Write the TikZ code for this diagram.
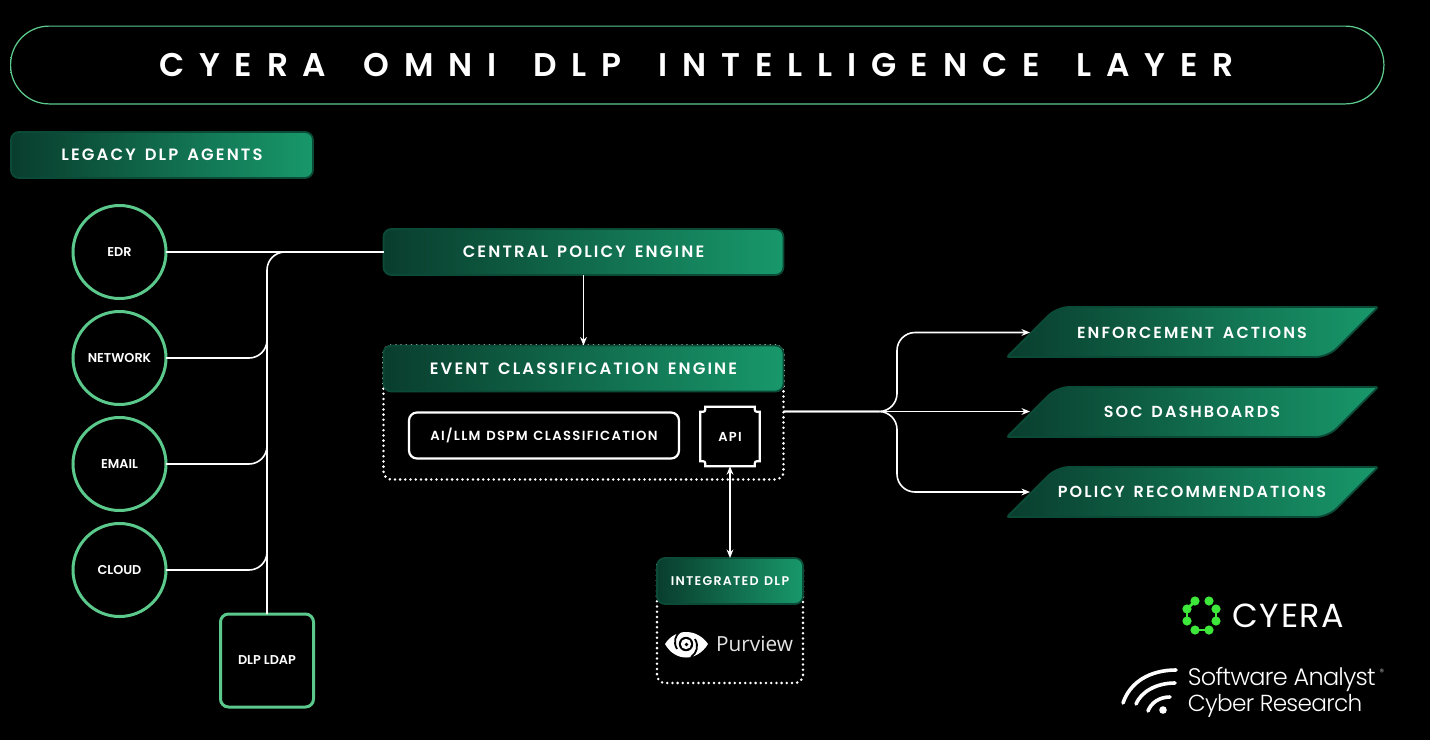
\documentclass[tikz,border=0pt]{standalone}
\usepackage{fontspec}
\usepackage{xcolor}
\usetikzlibrary{calc,arrows.meta}
\setmainfont{Poppins}[BoldFont={Poppins SemiBold}]
\newfontfamily\titlefont{Poppins}[LetterSpace=45,WordSpace=1.65,BoldFont={Poppins SemiBold}]
\newfontfamily\headfont{Poppins}[LetterSpace=13,WordSpace=1.5,BoldFont={Poppins SemiBold}]
\newfontfamily\smallfont{Poppins}[LetterSpace=10,WordSpace=1.3,BoldFont={Poppins SemiBold}]
\newfontfamily\brandfont{Poppins}[LetterSpace=5]
\newfontfamily\analystfont{Poppins Light}[LetterSpace=-3]
\newfontfamily\purviewfont{Open Sans}
\definecolor{head_dark}{HTML}{093D2D}
\definecolor{head_light}{HTML}{18986B}
\definecolor{head_edge}{HTML}{0C4A38}
\definecolor{agent_green}{HTML}{5CC98C}
\definecolor{ring_dark}{HTML}{0A3025}
\definecolor{logo_green}{HTML}{3DE83A}
\tikzset{
    head_box/.style={rectangle,rounded corners=4pt,left color=head_dark,right color=head_light,
        draw=head_edge,line width=0.9pt,outer sep=0pt,text=white,font=\headfont\bfseries\fontsize{8.2}{10}\selectfont},
    agent_circle/.style={circle,draw=agent_green,line width=1.5pt,minimum size=46.5pt,inner sep=0pt,
        outer sep=0pt,text=white,font=\bfseries\fontsize{6.4}{8}\selectfont},
    out_shape/.style={left color=head_dark,right color=head_light,draw=head_edge,line width=0.9pt},
    out_box/.style={rectangle,minimum width=162pt,minimum height=24pt,inner sep=0pt,outer sep=0pt,text=white,
        font=\headfont\bfseries\fontsize{8}{10}\selectfont},
    dot_frame/.style={rectangle,draw=white,rounded corners=4pt,line width=1.4pt,line cap=round,
        dash pattern=on 0pt off 2.6pt,outer sep=0pt},
    wire/.style={draw=white,line width=0.8pt},
    wire_arrow/.style={wire,-{Stealth[length=1.5mm,width=1.2mm,inset=0.5mm]}},
    logo_wave/.style={draw=white,line width=1.8pt,line cap=round},
}
\begin{document}
\begin{tikzpicture}[x=0.5pt,y=-0.5pt]
  \fill[black] (0,0) rectangle (1430,740);
  % title ring
  \shade[left color=agent_green,middle color=ring_dark,right color=agent_green,even odd rule,rounded corners=19.5pt]
    (10,25.5) rectangle (1384.5,104.5) [rounded corners=19pt] (11.2,26.7) rectangle (1383.3,103.3);
  \node[text=white,font=\titlefont\bfseries\fontsize{16.4}{20}\selectfont] (title) at (696.5,65) {CYERA OMNI DLP INTELLIGENCE LAYER};
  \node[head_box,minimum width=151pt,minimum height=23pt] (legacy) at (162,155) {LEGACY DLP AGENTS};
  % agents
  \node[agent_circle] (edr) at (119.5,252) {EDR};
  \node[agent_circle] (network) at (119.5,358) {NETWORK};
  \node[agent_circle] (email) at (119.5,464) {EMAIL};
  \node[agent_circle] (cloud) at (119.5,570) {CLOUD};
  \node[rectangle,rounded corners=4pt,draw=agent_green,line width=1.5pt,minimum size=46.5pt,inner sep=0pt,outer sep=0pt,
    text=white,font=\bfseries\fontsize{6.4}{8}\selectfont] (ldap) at (267,660.5) {DLP LDAP};
  % engines
  \node[head_box,minimum width=200pt,minimum height=23pt] (central) at (583.5,252) {CENTRAL POLICY ENGINE};
  \node[dot_frame,minimum width=200pt,minimum height=67pt] (event_frame) at (583.5,412.5) {};
  \node[head_box,minimum width=200pt,minimum height=23pt] (event) at (583.5,368.5) {EVENT CLASSIFICATION ENGINE};
  \node[rectangle,rounded corners=4pt,draw=white,line width=1.1pt,minimum width=135pt,minimum height=23pt,outer sep=0pt,
    text=white,font=\smallfont\bfseries\fontsize{6.6}{8}\selectfont] (dspm) at (544,435.5) {AI/LLM DSPM CLASSIFICATION};
  \node[minimum size=29.7pt,inner sep=0pt,outer sep=0pt,text=white,
    font=\smallfont\bfseries\fontsize{6.5}{8}\selectfont] (api) at (730,436.5) {API};
  \draw[white,line width=1.1pt]
    ($(api.north west)+(5,0)$) -- ($(api.north east)+(-5,0)$)
    .. controls ($(api.north east)+(-5,5)$) .. ($(api.north east)+(0,5)$)
    -- ($(api.south east)+(0,-5)$)
    .. controls ($(api.south east)+(-5,-5)$) .. ($(api.south east)+(-5,0)$)
    -- ($(api.south west)+(5,0)$)
    .. controls ($(api.south west)+(5,-5)$) .. ($(api.south west)+(0,-5)$)
    -- ($(api.north west)+(0,5)$)
    .. controls ($(api.north west)+(5,5)$) .. cycle;
  \node[dot_frame,minimum width=73pt,minimum height=62pt] (integrated_frame) at (730,621) {};
  \node[head_box,minimum width=73pt,minimum height=23pt,font=\smallfont\bfseries\fontsize{6.3}{8}\selectfont] (integrated) at (730,581) {INTEGRATED DLP};
  \node[text=white!90!black,font=\purviewfont\fontsize{10.4}{13}\selectfont] (purview) at (754.5,644) {Purview};
  % outputs
  \foreach \y in {332,412,492}
    \shade[out_shape,rounded corners=1pt] (1007,\y+25) [rounded corners=6pt] -- (1057,\y-25) [rounded corners=1pt] -- (1378,\y-25)
      [rounded corners=6pt] -- (1328,\y+25) [rounded corners=1pt] -- cycle;
  \node[out_box] (enforce) at (1192,332.5) {ENFORCEMENT ACTIONS};
  \node[out_box] (soc) at (1192,411.5) {SOC DASHBOARDS};
  \node[out_box] (policy) at (1192,492) {POLICY RECOMMENDATIONS};
  % left wires
  \coordinate (bus_net) at (267,320);
  \coordinate (bus_mail) at (267,430);
  \coordinate (bus_cloud) at (267,530);
  \draw[wire] (edr.east) -- (central.west);
  \draw[wire,rounded corners=9pt] (ldap.north) |- (central.west);
  \draw[wire,rounded corners=9pt] (network.east) -| (bus_net);
  \draw[wire,rounded corners=9pt] (email.east) -| (bus_mail);
  \draw[wire,rounded corners=9pt] (cloud.east) -| (bus_cloud);
  \draw[wire_arrow] (central.south) -- (event.north);
  \draw[wire,{Stealth[length=1.5mm,width=1.2mm,inset=0.5mm]}-{Stealth[length=1.5mm,width=1.2mm,inset=0.5mm]}] (api.south) -- (integrated.north);
  % right wires
  \coordinate (fork_out) at ($(event_frame.east)+(0,-1)$);
  \coordinate (fork_bar) at (897,411.5);
  \draw[wire_arrow] (fork_out) -- (soc.west);
  \draw[wire_arrow,rounded corners=9pt] (fork_out) -- (fork_bar) |- (enforce.west);
  \draw[wire_arrow,rounded corners=9pt] (fork_out) -- (fork_bar) |- (policy.west);
  % purview eye
  \fill[white] (665,644) .. controls (675,628) and (697,628) .. (708,644) .. controls (697,662) and (675,662) .. (665,644) -- cycle;
  \fill[black] (686,644) circle (3.6pt);
  \fill[white] (686,644) circle (2.6pt);
  \fill[black] (686.5,644.5) circle (0.9pt);
  \draw[black,line width=0.9pt] (681,631) .. controls (675,635) and (673,642) .. (677,649);
  \draw[black,line width=0.9pt] (691,657) .. controls (697,653) and (699,646) .. (695,639);
  % cyera logo
  \foreach \a/\b in {1195/601,1209/601,1216/609,1216/621,1209/630,1195/630,1187/621,1187/609}
    \fill[logo_green] (\a,\b) circle (2.3pt);
  \foreach \a/\b/\c/\d in {1216/609/1216/621,1209/630/1195/630,1187/621/1187/609,1187/609/1195/601}
    \draw[logo_green,line width=1.4pt] (\a,\b) -- (\c,\d);
  \node[text=white,anchor=west,inner sep=0pt,font=\brandfont\fontsize{16.7}{20}\selectfont] (cyera) at (1232,616) {CYERA};
  % analyst logo
  \fill[white] (1163,710) circle (1.9pt);
  \draw[logo_wave] (1123,703) .. controls (1130,682) and (1150,670) .. (1176,670);
  \draw[logo_wave] (1136,704) .. controls (1141,692) and (1156,683) .. (1175,683);
  \draw[logo_wave] (1148,711) .. controls (1151,703) and (1159,697) .. (1170,697);
  \node[text=white,anchor=west,inner sep=0pt,font=\analystfont\fontsize{12}{14}\selectfont] (analyst) at (1187.5,679) {Software Analyst};
  \node[text=white,anchor=west,inner sep=0pt,font=\analystfont\fontsize{11.6}{14}\selectfont] (research) at (1187.5,705.5) {Cyber Research};
  \node[text=white!70!black,inner sep=0pt,font=\fontsize{4.5}{5}\selectfont] (reg) at (1382,672) {®};
\end{tikzpicture}
\end{document}
